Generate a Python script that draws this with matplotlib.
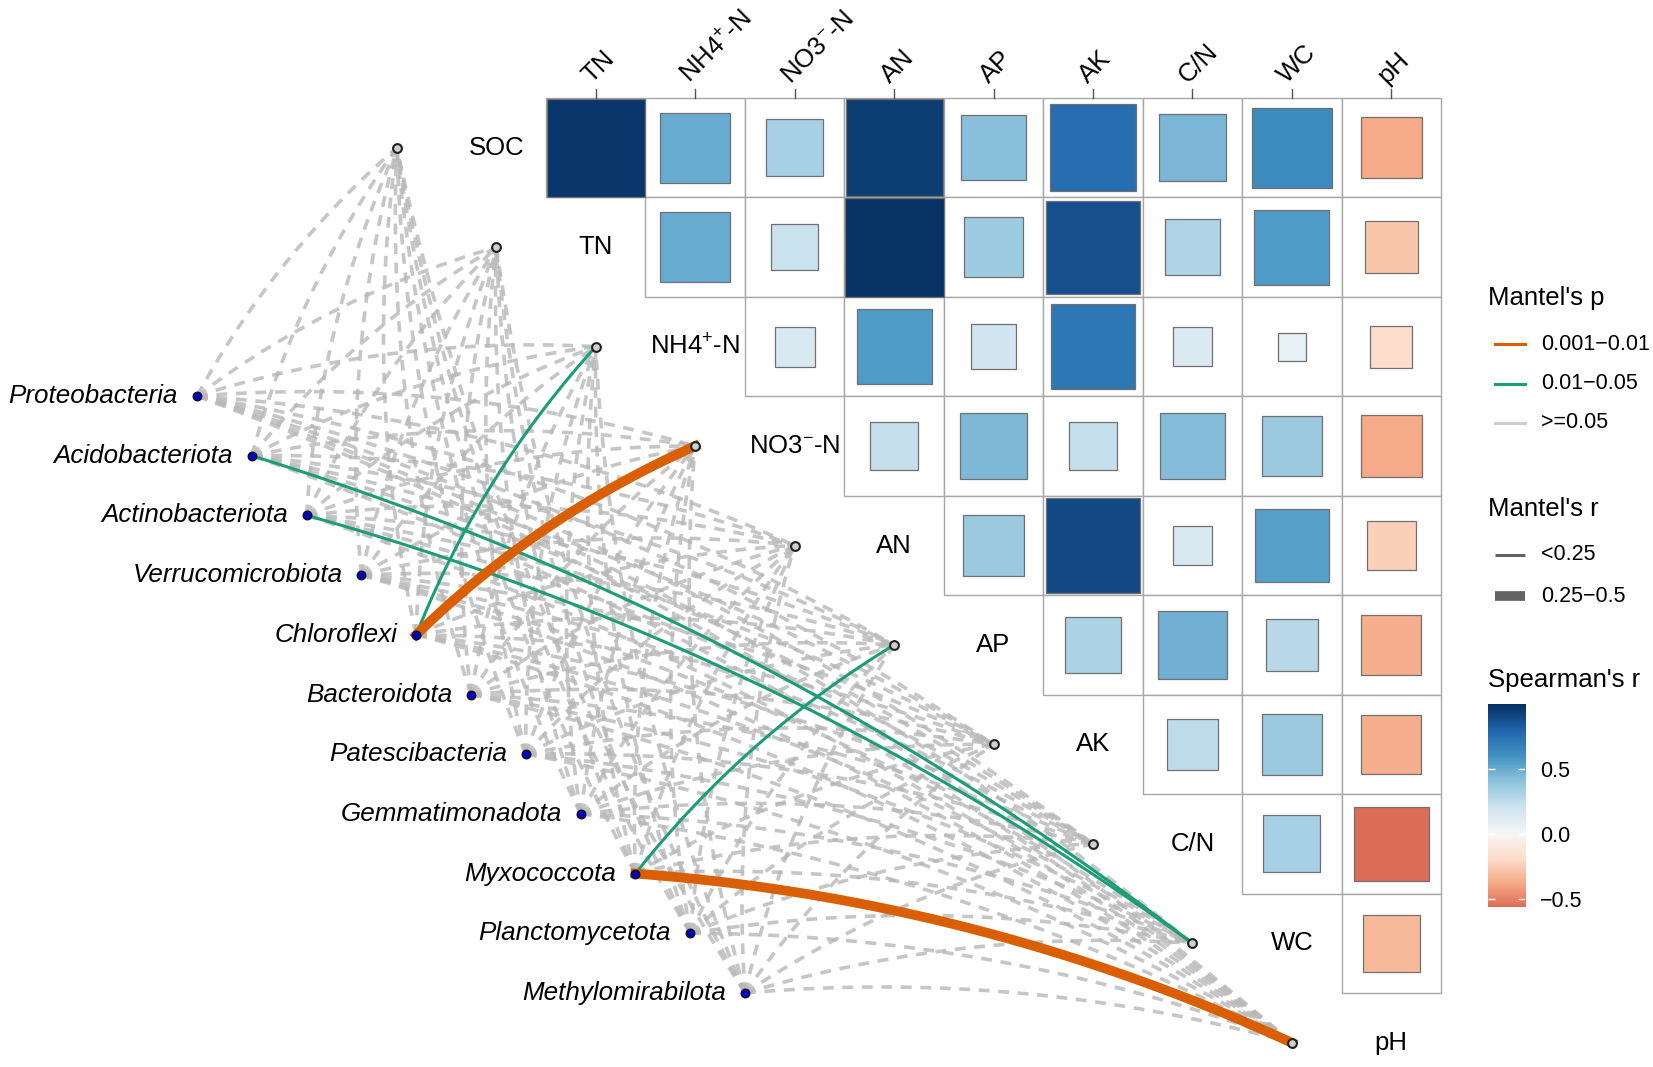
import numpy as np
import matplotlib.pyplot as plt
from matplotlib.patches import Rectangle

plt.rcParams['font.family'] = ['Liberation Sans', 'DejaVu Sans']
plt.rcParams['mathtext.fontset'] = 'custom'
plt.rcParams['mathtext.rm'] = 'Liberation Sans'
plt.rcParams['mathtext.it'] = 'Liberation Sans:italic'

# ---- data ----
env_labels = ['SOC', 'TN', 'NH4$^{+}$-N', 'NO3$^{-}$-N', 'AN', 'AP', 'AK', 'C/N', 'WC', 'pH']
species = ['Proteobacteria', 'Acidobacteriota', 'Actinobacteriota', 'Verrucomicrobiota',
           'Chloroflexi', 'Bacteroidota', 'Patescibacteria', 'Gemmatimonadota',
           'Myxococcota', 'Planctomycetota', 'Methylomirabilota']

# Spearman's r, upper triangle: row = env var, columns = following env vars
r_soc = [0.97, 0.50, 0.33, 0.95, 0.42, 0.76, 0.46, 0.64, -0.38]
r_tn = [0.50, 0.22, 0.99, 0.36, 0.88, 0.31, 0.57, -0.28]
r_nh4 = [0.16, 0.57, 0.20, 0.72, 0.15, 0.08, -0.18]
r_no3 = [0.24, 0.45, 0.24, 0.43, 0.37, -0.38]
r_an = [0.37, 0.90, 0.16, 0.55, -0.24]
r_ap = [0.32, 0.48, 0.28, -0.36]
r_ak = [0.26, 0.37, -0.36]
r_cn = [0.33, -0.56]
r_wc = [-0.33]
spearman = [r_soc, r_tn, r_nh4, r_no3, r_an, r_ap, r_ak, r_cn, r_wc]

# Mantel test classes, species x env var (SOC..pH)
# p: 0 = 0.001-0.01, 1 = 0.01-0.05, 2 = >=0.05 ; r: 0 = <0.25, 1 = 0.25-0.5
mantel_p = [[2] * 10 for _ in species]
mantel_r = [[0] * 10 for _ in species]
mantel_p[1][8] = 1   # Acidobacteriota - WC
mantel_p[2][8] = 1   # Actinobacteriota - WC
mantel_p[4][2] = 1   # Chloroflexi - NH4
mantel_p[4][3] = 0   # Chloroflexi - NO3
mantel_r[4][3] = 1
mantel_p[8][5] = 1   # Myxococcota - AP
mantel_p[8][9] = 0   # Myxococcota - pH
mantel_r[8][9] = 1

p_labels = ['0.001\u22120.01', '0.01\u22120.05', '>=0.05']
r_labels = ['<0.25', '0.25\u22120.5']
p_colors = ['#D95F02', '#1B9E77', '#CCCCCC']
r_widths = [2.2, 7.0]

# ---- layout (pixel coords) ----
W, H = 1653, 1067
x0, y0, cs = 546, 98, 99.45
sp_x0, sp_y0, sp_dx, sp_dy = 197, 396, 54.8, 59.7
curv = 0.09

fig = plt.figure(figsize=(W / 100, H / 100), dpi=100)
ax = fig.add_axes([0, 0, 1, 1])
ax.set_xlim(0, W)
ax.set_ylim(H, 0)
ax.axis('off')

cmap = plt.get_cmap('RdBu')

# heatmap cells
for i, row in enumerate(spearman):
    for jj, v in enumerate(row):
        j = i + jj
        cx, cy = x0 + j * cs, y0 + i * cs
        ax.add_patch(Rectangle((cx, cy), cs, cs, facecolor='white', edgecolor='#A8A8A8', lw=1.0, zorder=1))
        side = cs * np.sqrt(abs(v))
        off = (cs - side) / 2
        ax.add_patch(Rectangle((cx + off, cy + off), side, side, facecolor=cmap((v + 1) / 2),
                               edgecolor='#707070', lw=0.9, zorder=2))

# column labels + ticks
for j in range(9):
    cx = x0 + (j + 0.5) * cs
    ax.plot([cx, cx], [y0 - 9, y0], color='#555555', lw=1.0)
    ax.text(cx - 1, y0 - 10, env_labels[j + 1], rotation=45, rotation_mode='anchor',
            ha='left', va='bottom', fontsize=18.5)

# env nodes and labels
env_x = [x0 + (k - 1.5) * cs for k in range(10)]
env_y = [y0 + (k + 0.5) * cs for k in range(10)]
for k in range(10):
    ax.text(x0 + (k - 0.5) * cs, env_y[k], env_labels[k], ha='center', va='center', fontsize=18.5)

sp_x = [sp_x0 + s * sp_dx for s in range(len(species))]
sp_y = [sp_y0 + s * sp_dy for s in range(len(species))]


def curve(p0, p2):
    p0, p2 = np.array(p0), np.array(p2)
    d = p2 - p0
    left = np.array([d[1], -d[0]])
    c = (p0 + p2) / 2 + curv * left
    t = np.linspace(0, 1, 80)[:, None]
    pts = (1 - t) ** 2 * p0 + 2 * (1 - t) * t * c + t ** 2 * p2
    return pts[:, 0], pts[:, 1]


# non-significant links first
for s in range(len(species)):
    for k in range(10):
        if mantel_p[s][k] == 2:
            xs, ys = curve((sp_x[s], sp_y[s]), (env_x[k], env_y[k]))
            ax.plot(xs, ys, color='#B8B8B8', alpha=0.8, lw=2.6 if mantel_r[s][k] == 0 else 6,
                    linestyle=(0, (3, 2.4)), zorder=3, solid_capstyle='butt')
for s in range(len(species)):
    for k in range(10):
        if mantel_p[s][k] < 2:
            xs, ys = curve((sp_x[s], sp_y[s]), (env_x[k], env_y[k]))
            ax.plot(xs, ys, color=p_colors[mantel_p[s][k]], lw=r_widths[mantel_r[s][k]], zorder=4)

ax.scatter(env_x, env_y, s=40, facecolor='#D0D0D0', edgecolor='#222222', linewidths=1.5, zorder=6)
ax.scatter(sp_x, sp_y, s=38, facecolor='#0000CC', edgecolor='#111111', linewidths=1.0, zorder=6)
for s, name in enumerate(species):
    ax.text(sp_x[s] - 19, sp_y[s], name, ha='right', va='center', fontsize=18.7, style='italic')

# ---- legends ----
lx, tx = 1488, 1541
ax.text(lx, 298, "Mantel's p", fontsize=18.5, va='center')
for n, (lab, col) in enumerate(zip(p_labels, p_colors)):
    yy = 344 + n * 39.5
    ax.plot([lx + 7, lx + 37], [yy, yy], color=col, lw=2.2)
    ax.text(tx, yy, lab, fontsize=15.5, va='center')
ax.text(lx, 509, "Mantel's r", fontsize=18.5, va='center')
for n, (lab, w) in enumerate(zip(r_labels, r_widths)):
    yy = 555 + n * 41
    ax.plot([lx + 7, lx + 37], [yy, yy], color='#636363', lw=w, solid_capstyle='butt')
    ax.text(tx, yy, lab, fontsize=15.5, va='center')
ax.text(lx, 680, "Spearman's r", fontsize=18.5, va='center')

all_r = [v for row in spearman for v in row]
lo, hi = min(all_r), 1.0
cax = fig.add_axes([lx / W, 1 - 907 / H, 37 / W, 203 / H])
grad = np.linspace(lo, hi, 256)[:, None]
cax.imshow(grad, extent=[0, 1, lo, hi], origin='lower', aspect='auto', cmap=cmap, vmin=-1, vmax=1)
cax.set_xlim(0, 1)
cax.set_ylim(lo, hi)
ticks = [-0.5, 0.0, 0.5]
cax.hlines(ticks, 0, 0.2, color='white', lw=1)
cax.hlines(ticks, 0.8, 1, color='white', lw=1)
cax.set_xticks([])
cax.yaxis.tick_right()
cax.set_yticks(ticks)
cax.set_yticklabels(['\u22120.5', '0.0', '0.5'], fontsize=15.5)
cax.tick_params(axis='y', length=0, pad=11)
for sp in cax.spines.values():
    sp.set_visible(False)

fig.savefig('out.png', dpi=100)
